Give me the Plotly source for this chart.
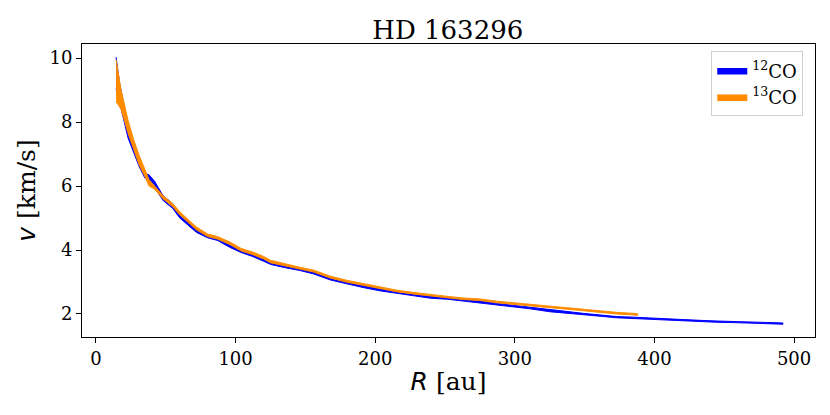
import plotly.graph_objects as go

# 12CO rotation curve band (R in au, v in km/s)
r_12co = [14.4, 17, 23, 27, 31, 35, 38, 42, 48, 55, 60, 66, 72, 80, 87, 96, 104, 112,
          120, 125, 135, 146, 156, 168, 180, 192, 204, 216, 228, 240, 252, 263, 275,
          287, 299, 311, 325, 337, 349, 361, 373, 385, 397, 409, 421, 433, 445, 457,
          469, 481, 492]
v_12co_lo = [9.05, 8.6, 7.5, 7.05, 6.6, 6.25, 6.15, 5.95, 5.55, 5.3, 5.0, 4.78, 4.55,
             4.38, 4.3, 4.08, 3.92, 3.8, 3.65, 3.55, 3.45, 3.36, 3.25, 3.06, 2.93, 2.82,
             2.72, 2.63, 2.56, 2.49, 2.46, 2.41, 2.36, 2.28, 2.22, 2.16, 2.07, 2.01, 1.97,
             1.93, 1.88, 1.86, 1.83, 1.81, 1.78, 1.76, 1.74, 1.73, 1.72, 1.70, 1.68]
v_12co_hi = [10.03, 9.2, 7.9, 7.3, 6.85, 6.4, 6.35, 6.15, 5.7, 5.45, 5.1, 4.9, 4.65,
             4.46, 4.38, 4.16, 4.0, 3.88, 3.73, 3.62, 3.52, 3.42, 3.32, 3.13, 3.0, 2.88,
             2.78, 2.69, 2.62, 2.55, 2.52, 2.46, 2.41, 2.33, 2.27, 2.21, 2.12, 2.06, 2.02,
             1.97, 1.92, 1.90, 1.87, 1.85, 1.82, 1.80, 1.78, 1.77, 1.76, 1.74, 1.72]

# 13CO rotation curve band
r_13co = [14.4, 18, 23, 27, 31, 35, 38, 42, 48, 55, 60, 66, 72, 80, 87, 96, 104, 112,
          120, 125, 135, 146, 156, 168, 180, 192, 204, 216, 228, 240, 252, 263, 275,
          287, 299, 311, 325, 337, 349, 361, 373, 388]
v_13co_lo = [8.64, 8.4, 7.65, 7.15, 6.65, 6.3, 6.0, 5.9, 5.6, 5.35, 5.1, 4.85, 4.63,
             4.42, 4.34, 4.17, 3.97, 3.86, 3.72, 3.6, 3.5, 3.4, 3.31, 3.12, 2.99, 2.89,
             2.8, 2.69, 2.62, 2.55, 2.5, 2.45, 2.42, 2.35, 2.3, 2.25, 2.19, 2.15, 2.1,
             2.06, 2.0, 1.96]
v_13co_hi = [9.95, 9.0, 8.05, 7.45, 6.95, 6.5, 6.2, 6.0, 5.7, 5.45, 5.2, 4.95, 4.72,
             4.5, 4.42, 4.25, 4.05, 3.94, 3.8, 3.68, 3.57, 3.46, 3.37, 3.18, 3.05, 2.95,
             2.85, 2.74, 2.67, 2.6, 2.55, 2.5, 2.47, 2.4, 2.35, 2.3, 2.24, 2.2, 2.15,
             2.1, 2.05, 2.01]

SERIF = "DejaVu Serif"


def band(r, lo, hi, color, name):
    return go.Scatter(
        x=list(r) + list(r)[::-1],
        y=list(hi) + list(lo)[::-1],
        fill="toself",
        fillcolor=color,
        line=dict(color=color, width=1),
        mode="lines",
        name=name,
        hoverinfo="skip",
    )


fig = go.Figure()
fig.add_trace(band(r_12co, v_12co_lo, v_12co_hi, "#0000ff", "<sup>12</sup>CO"))
fig.add_trace(band(r_13co, v_13co_lo, v_13co_hi, "#ff8c00", "<sup>13</sup>CO"))

axis_common = dict(
    showgrid=False,
    zeroline=False,
    showline=True,
    linecolor="black",
    linewidth=1,
    mirror=True,
    ticks="outside",
    ticklen=5,
    tickcolor="black",
    tickfont=dict(family=SERIF, size=18, color="black"),
    automargin=False,
)

fig.update_xaxes(
    range=[-10, 515],
    tickvals=[0, 100, 200, 300, 400, 500],
    title=dict(
        text='<span style="font-family:DejaVu Sans"><i>R</i></span> [au]',
        font=dict(family=SERIF, size=25, color="black"),
        standoff=4,
    ),
    **axis_common,
)
fig.update_yaxes(
    range=[1.28, 10.44],
    tickvals=[2, 4, 6, 8, 10],
    title=dict(
        text='<span style="font-family:DejaVu Sans"><i>v</i></span> [km/s]',
        font=dict(family=SERIF, size=25, color="black"),
        standoff=6,
    ),
    **axis_common,
)

# page body keeps an 8px margin, so the figure is a bit smaller than the window
fig.update_layout(
    width=822,
    height=407,
    margin=dict(l=74, r=15, t=36, b=78, autoexpand=False),
    plot_bgcolor="white",
    paper_bgcolor="white",
    title=dict(
        text="HD 163296",
        font=dict(family=SERIF, size=26, color="black"),
        x=0.535,
        xanchor="center",
        y=0.946,
        yanchor="middle",
    ),
    legend=dict(
        x=0.984,
        y=0.975,
        xanchor="right",
        yanchor="top",
        bgcolor="white",
        bordercolor="#d0d0d0",
        borderwidth=1,
        tracegroupgap=2,
        font=dict(family=SERIF, size=18, color="black"),
    ),
)

fig.write_html("out.html")
